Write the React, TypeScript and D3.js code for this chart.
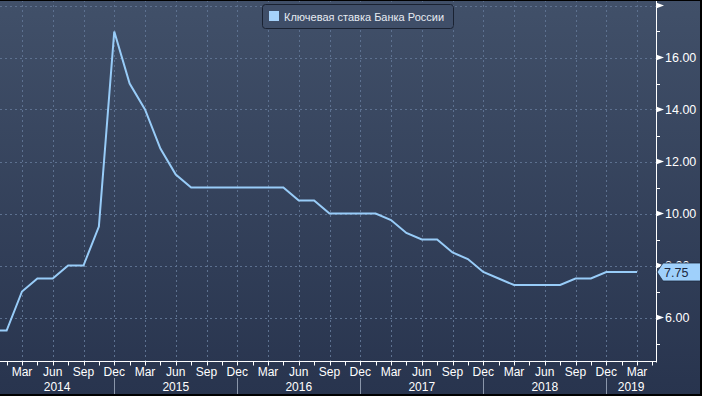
import React from 'react';
import * as d3 from 'd3';

// Key rate of the Bank of Russia, one value every half quarter (1.5 months), first point one quarter before Mar 2014
const rateValues = [
  5.5, 5.5, 7.0, 7.5, 7.5, 8.0, 8.0, 9.5, 17.0, 15.0, 14.0, 12.5, 11.5, 11.0,
  11.0, 11.0, 11.0, 11.0, 11.0, 11.0, 10.5, 10.5, 10.0, 10.0, 10.0, 10.0,
  9.75, 9.25, 9.0, 9.0, 8.5, 8.25, 7.75, 7.5, 7.25, 7.25, 7.25, 7.25,
  7.5, 7.5, 7.75, 7.75, 7.75,
];
const firstPeriod = -1; // in quarters relative to Mar 2014
const monthLabels = [
  'Mar', 'Jun', 'Sep', 'Dec', 'Mar', 'Jun', 'Sep', 'Dec', 'Mar', 'Jun', 'Sep',
  'Dec', 'Mar', 'Jun', 'Sep', 'Dec', 'Mar', 'Jun', 'Sep', 'Dec', 'Mar',
];
const yearLabels = ['2014', '2015', '2016', '2017', '2018', '2019'];
const yMajorTicks = [6, 8, 10, 12, 14, 16, 18];
const yLabelTicks = [6, 8, 10, 12, 14, 16];
const yMinorTicks = [5, 7, 9, 11, 13, 15, 17];
const lastValueLabel = '7.75';
const legendLabel = 'Ключевая ставка Банка России';

const W = 702;
const H = 396;
const plotRight = 656;
const plotBottom = 361.5;
const FONT = '"Liberation Sans", Arial, sans-serif';
const LINE = '#98ccf8';

export default function App() {
  const x = d3.scaleLinear().domain([0, 20]).range([22, 637]);
  const y = d3.scaleLinear().domain([6, 16]).range([317.5, 57.5]);
  const pts = rateValues.map((v, i) => ({ q: firstPeriod + i * 0.5, v }));
  const line = d3
    .line<{ q: number; v: number }>()
    .x((d) => x(d.q))
    .y((d) => y(d.v));

  const quarterTicks = monthLabels.map((_, i) => i);
  const halfTicks = d3.range(-0.5, 20.51, 0.5);
  const yearBounds = [x.invert(0), 3, 7, 11, 15, 19, x.invert(plotRight)];
  const lastY = y(rateValues[rateValues.length - 1]);

  return (
    <svg
      width={W}
      height={H}
      style={{ position: 'absolute', left: 0, top: 0, display: 'block' }}
      fontFamily={FONT}
    >
      <defs>
        <linearGradient id="bg" x1="0" y1="0" x2="0" y2="1">
          <stop offset="0" stopColor="#415069" />
          <stop offset="1" stopColor="#28344e" />
        </linearGradient>
        <clipPath id="plotClip">
          <rect x={0} y={0} width={plotRight} height={plotBottom} />
        </clipPath>
      </defs>
      <rect x={0} y={0} width={W} height={H} fill="url(#bg)" />

      {/* grid */}
      <g stroke="#5d7190" strokeWidth={1} strokeDasharray="2,3">
        {yMajorTicks.map((t) => (
          <line key={'h' + t} x1={0} x2={plotRight} y1={Math.round(y(t)) + 0.5} y2={Math.round(y(t)) + 0.5} />
        ))}
        {quarterTicks.map((t) => (
          <line key={'v' + t} x1={Math.round(x(t)) + 0.5} x2={Math.round(x(t)) + 0.5} y1={0} y2={plotBottom} />
        ))}
      </g>

      {/* series */}
      <g clipPath="url(#plotClip)">
        <path d={line(pts) || ''} fill="none" stroke={LINE} strokeWidth={2} strokeLinejoin="miter" />
      </g>

      {/* bottom axis */}
      <line x1={0} x2={plotRight} y1={plotBottom} y2={plotBottom} stroke="#ffffff" strokeWidth={1} />
      {halfTicks.map((t) => (
        <line key={'bt' + t} x1={Math.round(x(t)) + 0.5} x2={Math.round(x(t)) + 0.5} y1={plotBottom} y2={plotBottom + 4} stroke="#ffffff" />
      ))}
      {monthLabels.map((m, i) => (
        <text key={'m' + i} x={x(quarterTicks[i])} y={376} textAnchor="middle" fontSize={12} fill="#ffffff">
          {m}
        </text>
      ))}
      {yearLabels.map((yl, i) => {
        const cx = (x(yearBounds[i]) + x(yearBounds[i + 1])) / 2;
        return (
          <text key={'y' + yl} x={cx} y={391} textAnchor="middle" fontSize={12} fill="#ffffff">
            {yl}
          </text>
        );
      })}
      {yearBounds.slice(1, -1).map((b) => (
        <line key={'ys' + b} x1={Math.round(x(b)) + 0.5} x2={Math.round(x(b)) + 0.5} y1={378} y2={H} stroke="#8a96aa" />
      ))}

      {/* right axis */}
      <line x1={plotRight + 0.5} x2={plotRight + 0.5} y1={0} y2={plotBottom + 1} stroke="#ffffff" strokeWidth={1} />
      {yMajorTicks.map((t) => {
        const yy = y(t);
        return (
          <path key={'tri' + t} d={`M${plotRight},${yy - 3}L${plotRight + 8},${yy}L${plotRight},${yy + 3}Z`} fill="#ffffff" />
        );
      })}
      {yMinorTicks.map((t) => (
        <line key={'mn' + t} x1={plotRight} x2={plotRight + 4} y1={Math.round(y(t)) + 0.5} y2={Math.round(y(t)) + 0.5} stroke="#ffffff" />
      ))}
      {yLabelTicks.map((t) => (
        <text key={'yl' + t} x={665} y={y(t) + 4.5} fontSize={12.5} fill="#ffffff">
          {d3.format('.2f')(t)}
        </text>
      ))}

      {/* last value label */}
      <path
        d={`M${plotRight + 1},${lastY}L${plotRight + 7},${lastY - 9}L${W},${lastY - 9}L${W},${lastY + 9}L${plotRight + 7},${lastY + 9}Z`}
        fill="#9fd0fb"
        stroke="#1d2a40"
        strokeWidth={0.8}
      />
      <text x={664} y={lastY + 4.5} fontSize={12.5} fill="#1b2740">
        {lastValueLabel}
      </text>

      {/* legend */}
      <rect x={262.5} y={4.5} width={191} height={24} rx={3} fill="#3f4e68" stroke="#1a2232" strokeWidth={1} />
      <rect x={269} y={11} width={10} height={10} fill="#a6d2fa" />
      <text x={284} y={20.5} fontSize={11} fill="#e6ebf2">
        {legendLabel}
      </text>

      {/* outer frame */}
      <rect x={0} y={0} width={W} height={1} fill="#000" />
      <rect x={W - 2} y={0} width={2} height={H} fill="#000" />
      <rect x={0} y={H - 2} width={W} height={2} fill="#000" />
    </svg>
  );
}
